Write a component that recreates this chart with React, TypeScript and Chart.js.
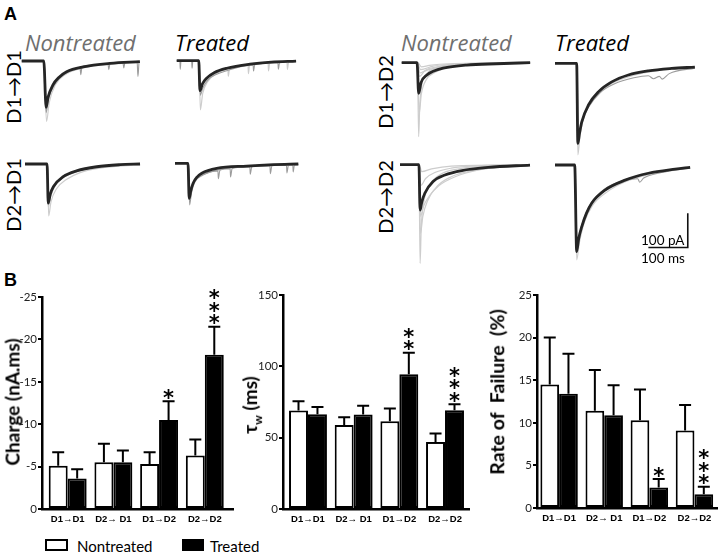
import React, { useEffect, useRef } from "react";
import { Chart, registerables } from "chart.js";
Chart.register(...registerables);

// ---------------- Panel A: traces (time in ms, current in pA) ----------------
const PX_PER_MS = 0.394;
const PX_PER_PA = 0.344;

const ntD1D1Mean = [[0,0],[56,0],[62,-135],[67,-105],[79,-70],[95,-47],[114,-31],[156,-17],[224,-7],[300,-2]];
const ntD1D1SweepA = [[0,0],[56,0],[63,-176],[70,-120],[85,-70],[110,-40],[150,-22],[200,-12],[300,-4]];
const ntD1D1SweepB = [[0,0],[57,0],[62,-150],[68,-110],[80,-75],[100,-45],[130,-25],[148,-18],[150,-40],[153,-17],[180,-12],[219,-8],[221,-25],[224,-8],[257,-5],[259,-20],[262,-5],[293,-3],[295,-45],[298,-4],[300,-3]];

const trD1D1Mean = [[0,0],[56,0],[59,-87],[65,-68],[76,-51],[95,-35],[127,-22],[186,-10],[240,-4],[303,-1]];
const trD1D1SweepA = [[0,0],[57,0],[60,-143],[66,-95],[78,-62],[100,-38],[130,-26],[131,-45],[134,-24],[181,-12],[182,-38],[185,-12],[232,-7],[233,-30],[236,-7],[280,-4],[281,-25],[284,-4],[303,-2]];
const trD1D1SweepB = [[0,0],[8,0],[9,-25],[11,0],[38,0],[39,-22],[41,0],[57,0],[60,-100],[66,-80],[80,-55],[100,-40],[130,-28],[160,-18],[194,-12],[195,-30],[198,-12],[257,-6],[258,-25],[261,-6],[303,-2]];

const ntD1D2Mean = [[0,0],[39,0],[43,-89],[49,-58],[64,-36],[80,-25],[105,-16],[165,-7],[240,-3],[326,0]];
const ntD1D2SweepA = [[0,0],[40,0],[43,-215],[46,-120],[52,-60],[65,-30],[90,-14],[150,-5],[326,0]];
const ntD1D2SweepB = [[0,0],[40,0],[44,-150],[50,-90],[62,-50],[85,-28],[120,-14],[200,-5],[326,-1]];
const ntD1D2SweepC = [[0,0],[40,0],[45,-40],[60,-22],[90,-12],[150,-5],[326,0]];
const ntD1D2SweepD = [[0,0],[40,0],[48,-20],[80,-10],[150,-3],[326,0]];
const ntD1D2SweepE = [[0,0],[41,0],[46,-30],[55,-26],[75,-18],[110,-9],[326,-1]];
const ntD1D2SweepF = [[0,0],[41,0],[50,-12],[70,-8],[120,-3],[326,0]];

const trD1D2Mean = [[0,0],[55,0],[58,-233],[62,-205],[68,-170],[85,-121],[110,-83],[144,-54],[186,-34],[237,-22],[296,-15],[355,-11]];
const trD1D2SweepA = [[0,0],[55,0],[58,-266],[63,-215],[70,-170],[85,-125],[110,-88],[145,-58],[190,-38],[240,-25],[300,-16],[355,-11]];
const trD1D2SweepB = [[0,0],[56,0],[59,-220],[66,-175],[85,-128],[115,-85],[150,-60],[200,-42],[237,-36],[250,-45],[265,-38],[272,-46],[290,-30],[355,-14]];

const ntD2D1Mean = [[0,0],[56,0],[59,-114],[64,-88],[72,-66],[97,-37],[131,-20],[182,-8],[241,-2],[292,0]];
const ntD2D1SweepA = [[0,0],[57,0],[60,-151],[66,-110],[80,-72],[105,-45],[140,-25],[190,-12],[292,-2]];
const ntD2D1SweepB = [[0,0],[56,0],[59,-125],[65,-95],[78,-60],[100,-38],[150,-16],[200,-6],[292,0]];

const trD2D1Mean = [[0,0],[33,0],[36,-102],[40,-80],[46,-58],[56,-40],[68,-29],[106,-15],[182,-8],[250,-4],[313,-2]];
const trD2D1SweepA = [[0,0],[34,0],[37,-121],[42,-85],[50,-55],[70,-35],[109,-22],[110,-45],[114,-20],[140,-16],[141,-40],[145,-15],[190,-10],[191,-32],[195,-10],[241,-7],[242,-30],[246,-7],[283,-5],[284,-28],[288,-5],[313,-3]];
const trD2D1SweepB = [[0,0],[34,0],[36,-95],[42,-70],[52,-48],[70,-33],[106,-20],[150,-12],[200,-9],[299,-5],[300,-25],[303,-5],[313,-4]];

const ntD2D2Mean = [[0,0],[48,0],[51,-132],[55,-110],[63,-83],[84,-49],[114,-30],[157,-17],[224,-8],[330,-1]];
const ntD2D2SweepA = [[0,0],[48,0],[51,-287],[54,-180],[60,-110],[75,-60],[100,-30],[150,-12],[250,-3],[330,0]];
const ntD2D2SweepB = [[0,0],[48,0],[52,-200],[58,-150],[70,-105],[95,-62],[130,-35],[180,-18],[260,-6],[330,-2]];
const ntD2D2SweepC = [[0,0],[48,0],[52,-150],[60,-120],[75,-90],[100,-60],[140,-35],[200,-15],[300,-3],[330,-1]];
const ntD2D2SweepD = [[0,0],[48,0],[53,-60],[65,-40],[90,-22],[130,-10],[200,-3],[330,0]];
const ntD2D2SweepE = [[0,0],[49,0],[55,-20],[80,-12],[130,-4],[330,0]];

const trD2D2Mean = [[0,0],[50,0],[55,-252],[60,-215],[68,-179],[80,-140],[93,-111],[127,-73],[178,-44],[237,-24],[305,-12],[343,-7]];
const trD2D2SweepA = [[0,0],[51,0],[55,-276],[62,-225],[75,-165],[95,-118],[130,-80],[180,-48],[240,-27],[305,-13],[343,-8]];
const trD2D2SweepB = [[0,0],[51,0],[56,-240],[62,-200],[75,-150],[95,-105],[125,-70],[175,-45],[210,-40],[215,-50],[225,-38],[270,-22],[343,-9]];

// scale bar (100 ms x 100 pA), corner position in data units of the last panel
const SCALE_BAR_MS = 100;
const SCALE_BAR_PA = 100;
const SCALE_BAR_CORNER = [337, -240];

// ---------------- Panel B: bar data ----------------
const pathways = ["D1→D1", "D2→ D1", "D1→D2", "D2→D2"];

const chargeNontreated = [-5.1, -5.5, -5.3, -6.3];
const chargeNontreatedSem = [1.6, 2.2, 1.4, 1.9];
const chargeTreated = [-3.6, -5.5, -10.5, -18.2];
const chargeTreatedSem = [1.1, 1.4, 2.2, 3.3];
const chargeStars = [0, 0, 1, 3];

const tauNontreated = [69, 58.8, 61.5, 47];
const tauNontreatedSem = [6.5, 5.5, 9, 6];
const tauTreated = [66.5, 66.3, 94.5, 69.2];
const tauTreatedSem = [5, 6, 15, 4.2];
const tauStars = [0, 0, 2, 3];

const failNontreated = [14.5, 11.4, 10.3, 9.1];
const failNontreatedSem = [5.5, 4.8, 3.6, 3.0];
const failTreated = [13.4, 10.9, 2.4, 1.6];
const failTreatedSem = [4.7, 3.5, 1.0, 0.9];
const failStars = [0, 0, 1, 3];

// ---------------- styles ----------------
const SANS = "Lato, 'DejaVu Sans', sans-serif";
const TITLE_SANS = "'Open Sans', 'DejaVu Sans', sans-serif";
const TRACE_STYLE: Record<string, { color: string; width: number }> = {
  mean: { color: "#252525", width: 2.8 },
  light: { color: "#cdcdcd", width: 1.2 },
  mid: { color: "#9c9c9c", width: 1.1 },
  scale: { color: "#111", width: 1.6 },
};

type Trace = { data: number[][]; kind: string; straight?: boolean };
type Box = { left: number; top: number; width: number; height: number; ox: number; oy: number };

function TracePanel({ box, traces }: { box: Box; traces: Trace[] }) {
  const ref = useRef<HTMLCanvasElement>(null);
  useEffect(() => {
    const xMin = (box.left - box.ox) / PX_PER_MS;
    const xMax = (box.left + box.width - box.ox) / PX_PER_MS;
    const yMax = (box.oy - box.top) / PX_PER_PA;
    const yMin = (box.oy - (box.top + box.height)) / PX_PER_PA;
    const chart = new Chart(ref.current!, {
      type: "line",
      data: {
        datasets: traces.map((tr) => ({
          data: tr.data.map(([x, y]) => ({ x, y })),
          borderColor: TRACE_STYLE[tr.kind].color,
          borderWidth: TRACE_STYLE[tr.kind].width,
          pointRadius: 0,
          fill: false,
          tension: 0,
          cubicInterpolationMode: tr.straight ? "default" : "monotone",
          borderCapStyle: "butt",
          borderJoinStyle: tr.straight ? "miter" : "round",
          clip: false,
        })) as any,
      },
      options: {
        animation: false,
        responsive: false,
        events: [],
        layout: { padding: 0 },
        plugins: { legend: { display: false }, tooltip: { enabled: false } },
        scales: {
          x: { type: "linear", display: false, bounds: "data", min: xMin, max: xMax },
          y: { type: "linear", display: false, bounds: "data", min: yMin, max: yMax },
        },
      },
    });
    return () => chart.destroy();
  }, []);
  return (
    <canvas
      ref={ref}
      width={box.width}
      height={box.height}
      style={{ position: "absolute", left: box.left, top: box.top, width: box.width, height: box.height }}
    />
  );
}

const errorBarPlugin = {
  id: "errorBars",
  afterDatasetsDraw(chart: any) {
    const { ctx } = chart;
    const y = chart.scales.y;
    chart.data.datasets.forEach((ds: any, di: number) => {
      const meta = chart.getDatasetMeta(di);
      meta.data.forEach((bar: any, i: number) => {
        const v = ds.data[i].y;
        const top = v + Math.sign(v) * ds.sem[i];
        const yTop = y.getPixelForValue(top);
        ctx.save();
        ctx.strokeStyle = "#000";
        ctx.lineWidth = 2;
        ctx.beginPath();
        ctx.moveTo(bar.x, bar.y);
        ctx.lineTo(bar.x, yTop);
        ctx.moveTo(bar.x - 6, yTop);
        ctx.lineTo(bar.x + 6, yTop);
        ctx.stroke();
        const n = ds.stars ? ds.stars[i] : 0;
        ctx.fillStyle = "#000";
        ctx.font = "bold 21px 'DejaVu Sans'";
        ctx.textAlign = "center";
        ctx.textBaseline = "alphabetic";
        for (let k = 0; k < n; k++) {
          const cy = yTop - 8.5 - k * 12.5;
          ctx.fillText("*", bar.x, cy + 12);
        }
        ctx.restore();
      });
    });
  },
};

type BarProps = {
  left: number; top: number; width: number; height: number;
  axisWidth: number; xHeight: number; padTop: number; padRight: number;
  xMin: number; xMax: number; yMin: number; yMax: number; step: number; reverse?: boolean;
  non: number[]; nonSem: number[]; tr: number[]; trSem: number[]; stars: number[];
};

function BarPanel(p: BarProps) {
  const ref = useRef<HTMLCanvasElement>(null);
  useEffect(() => {
    const chart = new Chart(ref.current!, {
      type: "bar",
      data: {
        datasets: [
          {
            label: "Nontreated",
            data: pathways.map((_, i) => ({ x: i, y: p.non[i] })),
            sem: p.nonSem,
            stars: pathways.map(() => 0),
            backgroundColor: "#ffffff",
            borderColor: "#000",
            borderWidth: 2,
            borderSkipped: false,
            barPercentage: 1,
            categoryPercentage: 0.83,
          },
          {
            label: "Treated",
            data: pathways.map((_, i) => ({ x: i, y: p.tr[i] })),
            sem: p.trSem,
            stars: p.stars,
            backgroundColor: "#000",
            borderColor: "#000",
            borderWidth: 2,
            borderSkipped: false,
            barPercentage: 1,
            categoryPercentage: 0.83,
          },
        ] as any,
      },
      options: {
        animation: false,
        responsive: false,
        events: [],
        layout: { padding: { left: 0, right: p.padRight, top: p.padTop, bottom: 0 } },
        plugins: { legend: { display: false }, tooltip: { enabled: false } },
        scales: {
          x: {
            type: "linear",
            bounds: "data",
            offset: false,
            min: p.xMin,
            max: p.xMax,
            afterBuildTicks: (s: any) => { s.ticks = pathways.map((_, i) => ({ value: i })); },
            afterFit: (s: any) => { s.height = p.xHeight; s.paddingLeft = 0; s.paddingRight = 0; },
            grid: { display: false, drawTicks: false, offset: false },
            border: { display: true, color: "#000", width: 2.5 },
            ticks: {
              autoSkip: false,
              maxRotation: 0,
              minRotation: 0,
              padding: 5,
              color: "#000",
              font: { family: "'Liberation Sans', Arial, sans-serif", weight: "bold", size: 9.5 },
              callback: (v: any) => {
                const i = Math.round(Number(v));
                return i >= 0 && i < pathways.length ? pathways[i] : "";
              },
            },
          },
          y: {
            type: "linear",
            bounds: "data",
            min: p.yMin,
            max: p.yMax,
            reverse: !!p.reverse,
            afterFit: (s: any) => { s.width = p.axisWidth; },
            grid: { display: true, drawOnChartArea: false, drawTicks: true, tickLength: 4, color: "#000", lineWidth: 2 },
            border: { display: true, color: "#000", width: 2.5 },
            ticks: { stepSize: p.step, padding: 1, color: "#222", font: { family: SANS, size: 11.5 } },
          },
        },
      },
      plugins: [errorBarPlugin],
    });
    return () => chart.destroy();
  }, []);
  return (
    <canvas
      ref={ref}
      width={p.width}
      height={p.height}
      style={{ position: "absolute", left: p.left, top: p.top, width: p.width, height: p.height }}
    />
  );
}

function Txt({ x, y, size, children, style }: any) {
  return (
    <div style={{ position: "absolute", left: x, top: y, fontSize: size, lineHeight: 1, whiteSpace: "pre", fontFamily: SANS, ...style }}>
      {children}
    </div>
  );
}

function VTxt({ cx, cy, size, children, style }: any) {
  return (
    <div
      style={{
        position: "absolute", left: cx, top: cy, fontSize: size, lineHeight: 1, whiteSpace: "pre",
        fontFamily: SANS, transform: "translate(-50%, -50%) rotate(-90deg)", ...style,
      }}
    >
      {children}
    </div>
  );
}

export default function App() {
  const titleStyle = { fontStyle: "italic", fontFamily: TITLE_SANS };
  return (
    <div style={{ position: "fixed", left: 0, top: 0, width: 720, height: 552, background: "#fff", overflow: "hidden", color: "#000" }}>
      {/* Panel A labels */}
      <Txt x={4} y={5} size={18} style={{ fontFamily: "'Liberation Sans', Arial, sans-serif", fontWeight: "bold" }}>A</Txt>
      <Txt x={25} y={30.5} size={22} style={{ ...titleStyle, color: "#6f6f6f" }}>Nontreated</Txt>
      <Txt x={175} y={30.5} size={22} style={{ ...titleStyle, color: "#000" }}>Treated</Txt>
      <Txt x={401} y={30.5} size={22} style={{ ...titleStyle, color: "#6f6f6f" }}>Nontreated</Txt>
      <Txt x={555} y={30.5} size={22} style={{ ...titleStyle, color: "#000" }}>Treated</Txt>
      <VTxt cx={12.5} cy={87} size={20}>D1→D1</VTxt>
      <VTxt cx={12.5} cy={195} size={20}>D2→D1</VTxt>
      <VTxt cx={385} cy={92} size={20}>D1→D2</VTxt>
      <VTxt cx={385} cy={197} size={20}>D2→D2</VTxt>

      <TracePanel
        box={{ left: 18, top: 52, width: 126, height: 74, ox: 21.7, oy: 61 }}
        traces={[{ data: ntD1D1Mean, kind: "mean" }, { data: ntD1D1SweepB, kind: "mid" }, { data: ntD1D1SweepA, kind: "light" }]}
      />
      <TracePanel
        box={{ left: 173, top: 52, width: 128, height: 62, ox: 176.7, oy: 60.7 }}
        traces={[{ data: trD1D1Mean, kind: "mean" }, { data: trD1D1SweepB, kind: "mid" }, { data: trD1D1SweepA, kind: "light" }]}
      />
      <TracePanel
        box={{ left: 398, top: 54, width: 136, height: 86, ox: 401.7, oy: 62.7 }}
        traces={[
          { data: ntD1D2Mean, kind: "mean" }, { data: ntD1D2SweepA, kind: "light" }, { data: ntD1D2SweepB, kind: "light" },
          { data: ntD1D2SweepC, kind: "light" }, { data: ntD1D2SweepD, kind: "light" }, { data: ntD1D2SweepE, kind: "light" },
          { data: ntD1D2SweepF, kind: "light" },
        ]}
      />
      <TracePanel
        box={{ left: 551, top: 55, width: 150, height: 104, ox: 555, oy: 63.3 }}
        traces={[{ data: trD1D2Mean, kind: "mean" }, { data: trD1D2SweepB, kind: "mid" }, { data: trD1D2SweepA, kind: "light" }]}
      />
      <TracePanel
        box={{ left: 21, top: 155, width: 124, height: 66, ox: 25, oy: 164 }}
        traces={[{ data: ntD2D1Mean, kind: "mean" }, { data: ntD2D1SweepB, kind: "light" }, { data: ntD2D1SweepA, kind: "light" }]}
      />
      <TracePanel
        box={{ left: 171, top: 155, width: 132, height: 54, ox: 175, oy: 163.3 }}
        traces={[{ data: trD2D1Mean, kind: "mean" }, { data: trD2D1SweepB, kind: "mid" }, { data: trD2D1SweepA, kind: "mid" }]}
      />
      <TracePanel
        box={{ left: 396, top: 156, width: 138, height: 112, ox: 400, oy: 164.7 }}
        traces={[
          { data: ntD2D2Mean, kind: "mean" }, { data: ntD2D2SweepA, kind: "light" }, { data: ntD2D2SweepB, kind: "light" },
          { data: ntD2D2SweepC, kind: "light" }, { data: ntD2D2SweepD, kind: "light" }, { data: ntD2D2SweepE, kind: "light" },
        ]}
      />
      <TracePanel
        box={{ left: 551, top: 156, width: 144, height: 112, ox: 555, oy: 165 }}
        traces={[
          { data: trD2D2Mean, kind: "mean" }, { data: trD2D2SweepB, kind: "mid" }, { data: trD2D2SweepA, kind: "light" },
          {
            data: [
              [SCALE_BAR_CORNER[0] - SCALE_BAR_MS, SCALE_BAR_CORNER[1]],
              [SCALE_BAR_CORNER[0], SCALE_BAR_CORNER[1]],
              [SCALE_BAR_CORNER[0], SCALE_BAR_CORNER[1] + SCALE_BAR_PA],
            ],
            kind: "scale",
            straight: true,
          },
        ]}
      />
      <Txt x={641} y={233.7} size={13.5}>100 pA</Txt>
      <Txt x={641} y={251.7} size={13.5}>100 ms</Txt>

      {/* Panel B */}
      <Txt x={4} y={271} size={18} style={{ fontFamily: "'Liberation Sans', Arial, sans-serif", fontWeight: "bold" }}>B</Txt>

      <BarPanel
        left={0} top={280} width={240} height={250}
        axisWidth={42} xHeight={21} padTop={17} padRight={7}
        xMin={-0.562} xMax={3.617} yMin={-25} yMax={0} step={5} reverse
        non={chargeNontreated} nonSem={chargeNontreatedSem} tr={chargeTreated} trSem={chargeTreatedSem} stars={chargeStars}
      />
      <BarPanel
        left={240} top={280} width={240} height={250}
        axisWidth={43} xHeight={21} padTop={15} padRight={11}
        xMin={-0.547} xMax={3.525} yMin={0} yMax={150} step={50}
        non={tauNontreated} nonSem={tauNontreatedSem} tr={tauTreated} trSem={tauTreatedSem} stars={tauStars}
      />
      <BarPanel
        left={480} top={280} width={240} height={250}
        axisWidth={57} xHeight={22} padTop={15} padRight={3}
        xMin={-0.49} xMax={3.5} yMin={0} yMax={25} step={5}
        non={failNontreated} nonSem={failNontreatedSem} tr={failTreated} trSem={failTreatedSem} stars={failStars}
      />

      <VTxt cx={12} cy={402} size={19} style={{ fontWeight: "bold" }}>Charge (nA.ms)</VTxt>
      <VTxt cx={252} cy={405} size={19} style={{ fontWeight: "bold" }}>
        τ<sub style={{ fontSize: 12 }}>w</sub> (ms)
      </VTxt>
      <VTxt cx={496.5} cy={392} size={19.5} style={{ fontWeight: "bold" }}>Rate of  Failure  (%)</VTxt>

      {/* Legend */}
      <div style={{ position: "absolute", left: 45, top: 539, width: 19, height: 8, border: "2px solid #000", background: "#fff" }} />
      <Txt x={77} y={539} size={15}>Nontreated</Txt>
      <div style={{ position: "absolute", left: 182, top: 539, width: 22, height: 12, background: "#000" }} />
      <Txt x={210} y={539} size={15}>Treated</Txt>
    </div>
  );
}
